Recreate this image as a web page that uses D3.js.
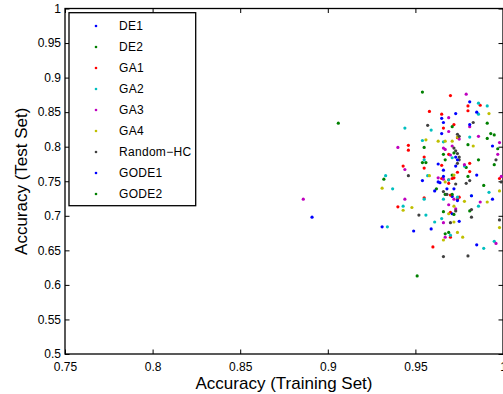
<!DOCTYPE html>
<html>
<head>
<meta charset="utf-8">
<script src="https://cdn.jsdelivr.net/npm/d3@7"></script>
<style>
  html, body { margin: 0; padding: 0; background: #fff; }
  svg { display: block; }
  text { font-family: "Liberation Sans", Arial, Helvetica, sans-serif; fill: #000; }
</style>
</head>
<body>
<svg id="chart" width="503" height="394"></svg>
<script>
// Each run: [accuracy on training set, accuracy on test set]
const de1 = [
  [0.981,0.865],[0.973,0.848],[0.966,0.835],[0.965,0.819],[0.963,0.775],[0.973,0.785],
  [0.985,0.759],[0.963,0.749],[0.964,0.748],[0.968,0.739],[0.971,0.728],[0.994,0.724],
  [0.975,0.692],[0.949,0.678],[0.985,0.658],[0.973,0.772]
];
const de2 = [
  [0.954,0.879],[0.991,0.834],[0.995,0.817],[0.955,0.799],[0.972,0.791],[0.966,0.789],
  [0.954,0.777],[0.979,0.770],[0.995,0.774],[0.971,0.759],[0.962,0.739],[0.967,0.731],
  [0.966,0.706],[0.981,0.707],[0.969,0.676]
];
const ga1 = [
  [0.970,0.874],[0.980,0.859],[0.987,0.860],[0.958,0.851],[0.980,0.852],[0.965,0.847],
  [0.972,0.832],[0.966,0.827],[0.946,0.802],[0.946,0.795],[0.955,0.785],[0.955,0.769],
  [0.943,0.772],[0.981,0.776],[0.965,0.773],[0.981,0.764],[0.998,0.754],[0.971,0.754],
  [0.972,0.755],[0.969,0.752],[0.969,0.747],[0.974,0.813],[0.969,0.789],[0.970,0.730],
  [0.974,0.724],[0.955,0.726],[0.940,0.713],[0.970,0.705],[0.970,0.669],[0.960,0.655],
  [0.975,0.727],[0.965,0.754],[0.974,0.763]
];
const ga2 = [
  [0.986,0.863],[0.991,0.859],[0.986,0.847],[0.944,0.827],[0.959,0.824],[0.981,0.814],
  [0.954,0.809],[0.966,0.807],[0.955,0.781],[0.971,0.784],[0.978,0.772],[0.957,0.758],
  [0.969,0.752],[0.933,0.758],[0.937,0.739],[0.992,0.734],[0.966,0.724],[0.955,0.724],
  [0.943,0.714],[0.986,0.714],[0.956,0.701],[0.965,0.696],[0.961,0.691],[0.934,0.684],
  [0.970,0.672],[0.989,0.653],[0.995,0.663],[0.982,0.729],[0.974,0.727]
];
const ga3 = [
  [0.979,0.876],[0.969,0.842],[0.981,0.829],[0.969,0.822],[0.940,0.799],[0.966,0.798],
  [0.967,0.796],[0.971,0.801],[0.986,0.815],[0.998,0.806],[0.997,0.789],[0.970,0.788],
  [0.975,0.811],[0.978,0.774],[0.944,0.767],[0.999,0.757],[0.963,0.755],[0.966,0.753],
  [0.944,0.724],[0.972,0.724],[0.969,0.716],[0.973,0.710],[0.987,0.720],[0.966,0.690],
  [0.967,0.669],[0.996,0.660],[0.886,0.724]
];
const ga4 = [
  [0.992,0.848],[0.956,0.810],[0.963,0.808],[0.967,0.808],[0.971,0.808],[0.974,0.814],
  [0.983,0.801],[0.958,0.758],[0.972,0.759],[0.943,0.708],[0.948,0.712],[0.931,0.740],
  [0.972,0.714],[0.978,0.721],[0.991,0.720],[0.998,0.736],[0.969,0.703],[0.972,0.691],
  [0.974,0.676],[0.977,0.669],[0.966,0.665],[0.998,0.683],[0.967,0.749]
];
const randomHC = [
  [0.983,0.835],[0.957,0.831],[0.974,0.818],[0.975,0.815],[0.972,0.798],[0.973,0.794],
  [0.974,0.790],[0.975,0.785],[0.975,0.781],[0.996,0.781],[0.946,0.758],[0.999,0.749],
  [0.981,0.751],[0.979,0.747],[0.968,0.731],[0.966,0.735],[0.973,0.707],[0.982,0.709],
  [0.952,0.701],[0.982,0.698],[0.970,0.690],[0.998,0.694],[0.966,0.641],[0.980,0.642],
  [0.973,0.746],[0.974,0.776]
];
const gode1 = [
  [0.985,0.850],[0.965,0.841],[0.981,0.832],[0.994,0.801],[0.966,0.766],[0.974,0.781],
  [0.954,0.751],[0.966,0.757],[0.972,0.739],[0.961,0.736],[0.974,0.722],[0.971,0.703],
  [0.959,0.681],[0.931,0.684],[0.891,0.698],[0.982,0.729]
];
const gode2 = [
  [0.971,0.829],[0.993,0.819],[0.991,0.812],[0.980,0.803],[0.997,0.797],[0.967,0.781],
  [0.956,0.777],[0.986,0.781],[0.980,0.757],[0.932,0.753],[0.989,0.744],[0.971,0.731],
  [0.972,0.702],[0.967,0.674],[0.951,0.613],[0.906,0.834]
];

const seriesNames = ["DE1", "DE2", "GA1", "GA2", "GA3", "GA4", "Random\u2212HC", "GODE1", "GODE2"];
const seriesColors = ["#0000ff", "#008000", "#ff0000", "#00bfbf", "#bf00bf", "#bfbf00", "#404040", "#0000ff", "#008000"];
const seriesData = [de1, de2, ga1, ga2, ga3, ga4, randomHC, gode1, gode2];

const xTicks = [0.75, 0.8, 0.85, 0.9, 0.95, 1];
const yTicks = [0.5, 0.55, 0.6, 0.65, 0.7, 0.75, 0.8, 0.85, 0.9, 0.95, 1];

const svg = d3.select("#chart");
const plotLeft = 65, plotRight = 503, plotTop = 8.5, plotBottom = 354;

const x = d3.scaleLinear().domain([0.75, 1]).range([plotLeft, plotRight]);
const y = d3.scaleLinear().domain([0.5, 1]).range([plotBottom, plotTop]);

const tickLen = 4.5;
const fmt = d => String(d);

// Inward ticks on all four sides, labels on the left and bottom only
const gLeft = svg.append("g").attr("transform", `translate(${plotLeft},0)`)
  .call(d3.axisLeft(y).tickValues(yTicks).tickSizeInner(-tickLen).tickSizeOuter(0).tickPadding(4).tickFormat(fmt));
const gBottom = svg.append("g").attr("transform", `translate(0,${plotBottom})`)
  .call(d3.axisBottom(x).tickValues(xTicks).tickSizeInner(-tickLen).tickSizeOuter(0).tickPadding(8).tickFormat(fmt));
const gTop = svg.append("g").attr("transform", `translate(0,${plotTop})`)
  .call(d3.axisTop(x).tickValues(xTicks).tickSizeInner(-tickLen).tickSizeOuter(0).tickFormat(""));
const gRight = svg.append("g").attr("transform", `translate(${plotRight},0)`)
  .call(d3.axisRight(y).tickValues(yTicks).tickSizeInner(-tickLen).tickSizeOuter(0).tickFormat(""));

[gLeft, gBottom, gTop, gRight].forEach(g => {
  g.select(".domain").remove();
  g.selectAll(".tick line").attr("stroke", "#000").attr("stroke-width", 1);
  g.selectAll(".tick text").style("font-size", "12px").attr("fill", "#000");
});

// Axes box
svg.append("rect")
  .attr("x", plotLeft).attr("y", plotTop)
  .attr("width", plotRight - plotLeft).attr("height", plotBottom - plotTop)
  .attr("fill", "none").attr("stroke", "#000").attr("stroke-width", 1.3);

// Scatter points, series drawn in legend order
seriesData.forEach((pts, i) => {
  svg.append("g").selectAll("circle").data(pts).join("circle")
    .attr("cx", d => x(d[0]))
    .attr("cy", d => y(d[1]))
    .attr("r", 1.6)
    .attr("fill", seriesColors[i]);
});

// Axis titles
svg.append("text")
  .attr("x", (plotLeft + plotRight) / 2).attr("y", 389)
  .attr("text-anchor", "middle")
  .style("font-size", "17px")
  .text("Accuracy (Training Set)");
svg.append("text")
  .attr("transform", `translate(27,${(plotTop + plotBottom) / 2}) rotate(-90)`)
  .attr("text-anchor", "middle")
  .style("font-size", "17px")
  .text("Accuracy (Test Set)");

// Legend
const lg = svg.append("g");
lg.append("rect")
  .attr("x", 69).attr("y", 12.7).attr("width", 126.7).attr("height", 193)
  .attr("fill", "#fff").attr("stroke", "#000").attr("stroke-width", 1.3);
seriesNames.forEach((name, i) => {
  const cy = 26 + i * 21;
  lg.append("circle").attr("cx", 96).attr("cy", cy).attr("r", 1.3).attr("fill", seriesColors[i]);
  lg.append("text").attr("x", 119).attr("y", cy).attr("dy", "0.35em")
    .style("font-size", "12px").style("letter-spacing", "0.3px").text(name);
});
</script>
</body>
</html>
